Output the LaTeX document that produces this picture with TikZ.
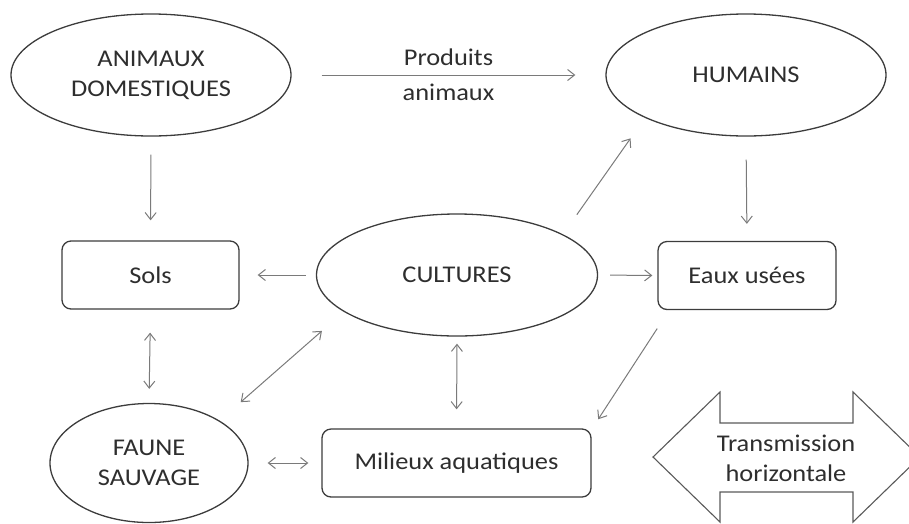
\documentclass[tikz,border=0pt]{standalone}
\usepackage{fontspec}
\setmainfont{Carlito}[FakeStretch=1.1]
\usetikzlibrary{shapes.geometric, arrows.meta}

\definecolor{txtgray}{HTML}{2E2E2E}
\definecolor{linegray}{HTML}{3C3C3C}
\definecolor{arrgray}{HTML}{7A7A7A}

\tikzset{
    oval/.style={ellipse, draw=linegray, line width=1.3pt, minimum width=280pt, minimum height=122pt, align=center, inner sep=0pt},
    box/.style={rectangle, rounded corners=9pt, draw=linegray, line width=1.3pt, minimum height=68pt, align=center},
    arr/.style={draw=arrgray, line width=1pt, -{Straight Barb[length=7pt, width=11pt]}},
    darr/.style={draw=arrgray, line width=1pt, {Straight Barb[length=7pt, width=11pt]}-{Straight Barb[length=7pt, width=11pt]}}
}

\begin{document}
\begin{tikzpicture}[x=1pt, y=-1pt, every node/.style={font=\fontsize{24}{30}\selectfont, text=txtgray}]
    \useasboundingbox (0,0) rectangle (909,523);

    \node[oval] (anim) at (151,75) {ANIMAUX\\DOMESTIQUES};
    \node[oval] (hum) at (746,75) {HUMAINS};
    \node[oval, minimum width=281pt] (cult) at (457,275) {CULTURES};
    \node[oval, minimum width=198pt, minimum height=119pt] (faune) at (149,463) {FAUNE\\SAUVAGE};

    \node[box, minimum width=177pt] (sols) at (150.5,275) {Sols};
    \node[box, minimum width=178pt] (eaux) at (747,275.5) {Eaux usées};
    \node[box, minimum width=269pt] (mil) at (456.5,463) {Milieux aquatiques};

    % products of animal origin
    \draw[arr, shorten <=30pt, shorten >=30pt] (anim.east) -- node[align=center] (prod) {Produits\\[5pt]animaux} (hum.west);

    \draw[arr, shorten <=18pt, shorten >=20pt] (anim.south) -- (sols.north);
    \draw[arr, shorten <=23pt, shorten >=17pt] (hum.south) -- (eaux.north);
    \draw[arr, shorten <=10pt, shorten >=18pt] (cult.west) -- (sols.east);
    \draw[arr, shorten <=12pt, shorten >=5pt] (cult.east) -- (eaux.west);
    \draw[arr, shorten <=24pt, shorten >=25pt] (cult.21.5) -- (hum.203);
    \draw[arr, shorten <=22pt, shorten >=12pt] (eaux.204) -- (mil.14.5);

    \draw[darr, shorten <=23pt, shorten >=14pt] (sols.south) -- (faune.north);
    \draw[darr, shorten <=29pt, shorten >=28pt] (cult.198) -- (faune.31);
    \draw[darr, shorten <=7pt, shorten >=19pt] (cult.south) -- (mil.north);
    \draw[darr, shorten <=19pt, shorten >=13pt] (faune.east) -- (mil.west);

    % big double arrow
    \draw[draw=linegray!85, line width=1.1pt] (653,457) -- (720,392) -- (720,423) -- (853,423) -- (853,392) -- (920,457)
        -- (853,522) -- (853,492) -- (720,492) -- (720,522) -- cycle;
    \node[align=center] (trans) at (786,458) {Transmission\\horizontale};
\end{tikzpicture}
\end{document}
